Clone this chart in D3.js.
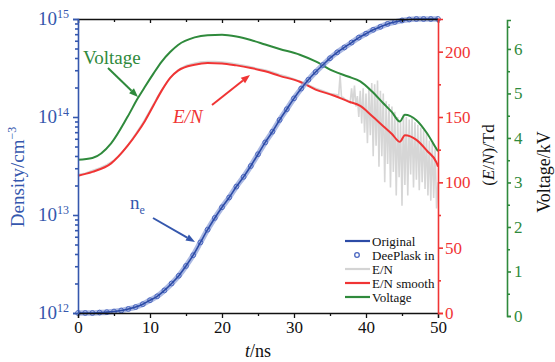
<!DOCTYPE html>
<html lang="en">
<head>
<meta charset="UTF-8">
<title>Density, E/N and voltage</title>
<style>
    body { margin: 0; padding: 0; background: #fff; }
    svg { display: block; }
    svg text { font-family: "Liberation Serif", "Times New Roman", "DejaVu Serif", serif; }
</style>
</head>
<body>
<svg width="555" height="362"></svg>
<script src="https://d3js.org/d3.v7.min.js"></script>
<script>
    // electron density n_e, one value per ns (0..50)
    const neTimes = d3.range(0, 51, 1);
    const neValues = [
        1.00e12, 1.00e12, 1.00e12, 1.01e12, 1.02e12, 1.035e12, 1.06e12, 1.10e12, 1.15e12, 1.23e12,
        1.35e12, 1.48e12, 1.70e12, 2.00e12, 2.40e12, 3.02e12, 3.89e12, 5.25e12, 7.08e12, 9.33e12,
        1.20e13, 1.51e13, 1.95e13, 2.45e13, 3.16e13, 4.17e13, 5.50e13, 7.08e13, 9.33e13, 1.20e14,
        1.55e14, 1.95e14, 2.40e14, 2.88e14, 3.39e14, 3.98e14, 4.57e14, 5.13e14, 5.75e14, 6.46e14,
        7.08e14, 7.76e14, 8.32e14, 8.91e14, 9.33e14, 9.66e14, 9.89e14, 1.0e15, 1.0e15, 1.0e15, 1.0e15
    ];

    // smoothed E/N (Td) and voltage (kV)
    const smoothTimes = [0, 2, 4.6, 6.9, 8.3, 9.3, 10.5, 11.6, 12.8, 13.9, 16.2, 18, 20, 22, 24, 26, 28,
        30.8, 33, 35.5, 37.5, 39.2, 40.8, 42.4, 43.6, 44.7, 45.4, 47, 48.5, 49.8, 50];
    const enSmooth = [105, 108, 114.5, 128, 138.5, 147, 159, 170, 180, 185.5, 190, 191.3, 191, 189.5, 187.5, 185, 181.5,
        177, 171, 166.5, 162, 158.5, 151, 143, 137, 131, 136, 132.5, 124, 115, 112];
    const voltage = [3.51, 3.55, 3.88, 4.48, 4.89, 5.15, 5.45, 5.71, 5.93, 6.09, 6.26, 6.31, 6.32, 6.28, 6.2, 6.1, 6.0,
        5.87, 5.72, 5.5, 5.38, 5.27, 5.05, 4.78, 4.58, 4.37, 4.52, 4.4, 4.1, 3.75, 3.7];

    // raw E/N (Td): 1 ns steps up to 35, then 0.2 ns steps
    const enRawEarly = [106, 107, 109, 111, 113.5, 117, 122, 129, 137, 145.5, 155, 165, 174, 181, 186.5, 189.5, 191, 192,
        192.5, 192.5, 192, 191.5, 190.5, 189.5, 188.5, 187, 186, 184.5, 182.5, 181, 179, 177, 174.5, 172, 170, 168];
    const enRawLate = [
        167, 166, 182, 165, 165, 164, 163, 163, 162, 161,
        172, 160, 174, 158, 166, 150, 170, 145, 172, 138,
        168, 130, 172, 136, 176, 120, 175, 128, 178, 112,
        170, 120, 168, 100, 162, 114, 160, 96, 158, 108,
        154, 90, 150, 104, 146, 82, 152, 98, 150, 90,
        148, 106, 150, 96, 146, 102, 144, 94, 142, 100,
        140, 95, 138, 90, 132, 86, 130, 88, 126, 80,
        100
    ];
    const rawTimes = enRawEarly.map((d, i) => i).concat(enRawLate.map((d, i) => +(36 + 0.2 * i).toFixed(1)));
    const enRaw = enRawEarly.concat(enRawLate);

    const xTicks = [0, 10, 20, 30, 40, 50];
    const densityTicks = [1e12, 1e13, 1e14, 1e15];
    const enTicks = [0, 50, 100, 150, 200];
    const voltTicks = [0, 1, 2, 3, 4, 5, 6];

    const legendItems = [
        { label: "Original", kind: "line", color: "#2c4ba6" },
        { label: "DeePlask in", kind: "dot", color: "#4a66c0" },
        { label: "E/N", kind: "line", color: "#d4d4d4" },
        { label: "E/N smooth", kind: "line", color: "#f03434" },
        { label: "Voltage", kind: "line", color: "#2f8a3c" }
    ];

    const blue = "#3557ad", red = "#f03434", green = "#2f8a3c";
    const pL = 78, pR = 438, pT = 19, pB = 313, vAxisX = 507;

    const svg = d3.select("svg");

    const x = d3.scaleLinear().domain([0, 50]).range([pL, pR]);
    const yN = d3.scaleLog().domain([1e12, 1e15]).range([pB, pT]);
    const yE = d3.scaleLinear().domain([0, 225]).range([pB, pT]);
    const yV = d3.scaleLinear().domain([0, 6.65]).range([316, 20]);

    // ---------- curves ----------
    const rawLine = d3.line().x((d, i) => x(rawTimes[i])).y(d => yE(d));
    svg.append("path").datum(enRaw)
        .attr("d", rawLine).attr("fill", "none")
        .attr("stroke", "#d6d6d6").attr("stroke-width", 1.6);

    const enLine = d3.line().curve(d3.curveMonotoneX)
        .x((d, i) => x(smoothTimes[i])).y(d => yE(d));
    svg.append("path").datum(enSmooth)
        .attr("d", enLine).attr("fill", "none")
        .attr("stroke", red).attr("stroke-width", 2);

    const vLine = d3.line().curve(d3.curveMonotoneX)
        .x((d, i) => x(smoothTimes[i])).y(d => yV(d));
    svg.append("path").datum(voltage)
        .attr("d", vLine).attr("fill", "none")
        .attr("stroke", green).attr("stroke-width", 2);

    const neLine = d3.line().curve(d3.curveMonotoneX)
        .x((d, i) => x(neTimes[i])).y(d => yN(d));
    svg.append("path").datum(neValues)
        .attr("d", neLine).attr("fill", "none")
        .attr("stroke", "#8ea0d8").attr("stroke-width", 5.5).attr("stroke-opacity", 0.75);
    svg.append("g").selectAll("circle")
        .data(neValues)
        .enter().append("circle")
        .attr("cx", (d, i) => x(neTimes[i]))
        .attr("cy", d => yN(d))
        .attr("r", 2.4)
        .attr("fill", "none")
        .attr("stroke", "#4a66c0")
        .attr("stroke-width", 1);
    svg.append("path").datum(neValues)
        .attr("d", neLine).attr("fill", "none")
        .attr("stroke", "#2c4ba6").attr("stroke-width", 1.6);

    // ---------- axes ----------
    function styleAxis(g, color, width) {
        g.selectAll(".domain, line").attr("stroke", color).attr("stroke-width", width);
        g.selectAll("text").attr("fill", color).attr("font-size", 17).attr("font-family", null);
        return g;
    }
    const minorX = [5, 15, 25, 35, 45];

    // bottom
    styleAxis(svg.append("g").attr("transform", `translate(0,${pB})`)
        .call(d3.axisBottom(x).tickValues(xTicks).tickSize(5).tickPadding(3).tickFormat(d3.format("d"))), "#111", 1.3);
    styleAxis(svg.append("g").attr("transform", `translate(0,${pB})`)
        .call(d3.axisBottom(x).tickValues(minorX).tickSize(3).tickFormat("")), "#111", 1.3)
        .select(".domain").remove();
    // top
    styleAxis(svg.append("g").attr("transform", `translate(0,${pT})`)
        .call(d3.axisBottom(x).tickValues(xTicks).tickSize(4).tickFormat("")), "#111", 1.3);
    styleAxis(svg.append("g").attr("transform", `translate(0,${pT})`)
        .call(d3.axisBottom(x).tickValues(minorX).tickSize(3).tickFormat("")), "#111", 1.3)
        .select(".domain").remove();

    // left (log density)
    styleAxis(svg.append("g").attr("transform", `translate(${pL},0)`)
        .call(d3.axisLeft(yN).tickValues(densityTicks).tickSize(5).tickFormat("")), blue, 1.6);
    const minorN = [];
    densityTicks.slice(0, 3).forEach(b => { for (let k = 2; k <= 9; k++) minorN.push(b * k); });
    styleAxis(svg.append("g").attr("transform", `translate(${pL},0)`)
        .call(d3.axisLeft(yN).tickValues(minorN).tickSize(3).tickFormat("")), blue, 1.6)
        .select(".domain").remove();
    const leftLabels = svg.append("g").attr("fill", blue);
    densityTicks.forEach(v => {
        const t = leftLabels.append("text")
            .attr("x", 69).attr("y", yN(v) + 6)
            .attr("text-anchor", "end").attr("font-size", 19);
        t.append("tspan").text("10");
        t.append("tspan").attr("font-size", 12).attr("dy", -7).text(Math.round(Math.log10(v)));
    });

    // right (E/N)
    styleAxis(svg.append("g").attr("transform", `translate(${pR},0)`)
        .call(d3.axisRight(yE).tickValues(enTicks).tickSize(5).tickPadding(2)), red, 1.6);
    styleAxis(svg.append("g").attr("transform", `translate(${pR},0)`)
        .call(d3.axisRight(yE).tickValues([25, 75, 125, 175, 225]).tickSize(3).tickFormat("")), red, 1.6)
        .select(".domain").remove();

    // far right (voltage)
    styleAxis(svg.append("g").attr("transform", `translate(${vAxisX},0)`)
        .call(d3.axisRight(yV).tickValues(voltTicks).tickSize(4).tickPadding(3).tickFormat(d3.format("d"))), green, 1.6);
    styleAxis(svg.append("g").attr("transform", `translate(${vAxisX},0)`)
        .call(d3.axisRight(yV).tickValues([0.5, 1.5, 2.5, 3.5, 4.5, 5.5, 6.5]).tickSize(3).tickFormat("")), green, 1.6)
        .select(".domain").remove();

    // ---------- axis titles ----------
    const dens = svg.append("text").attr("fill", blue).attr("font-size", 19)
        .attr("text-anchor", "middle")
        .attr("transform", "translate(24,177) rotate(-90)");
    dens.append("tspan").text("Density/cm");
    dens.append("tspan").attr("font-size", 12).attr("dy", -8).text("\u22123");

    const enT = svg.append("text").attr("fill", "#111").attr("font-size", 17)
        .attr("text-anchor", "middle")
        .attr("transform", "translate(494,155) rotate(-90)");
    enT.append("tspan").text("(");
    enT.append("tspan").attr("font-style", "italic").text("E");
    enT.append("tspan").text("/");
    enT.append("tspan").attr("font-style", "italic").text("N");
    enT.append("tspan").text(")/Td");

    svg.append("text").attr("fill", "#111").attr("font-size", 18)
        .attr("text-anchor", "middle")
        .attr("transform", "translate(550,172) rotate(-90)")
        .text("Voltage/kV");

    const tT = svg.append("text").attr("fill", "#111").attr("font-size", 18)
        .attr("text-anchor", "middle").attr("x", 258).attr("y", 357);
    tT.append("tspan").attr("font-style", "italic").text("t");
    tT.append("tspan").text("/ns");

    // ---------- annotations ----------
    function arrow(x1, y1, x2, y2, color) {
        const a = Math.atan2(y2 - y1, x2 - x1), L = 9, W = 3.5;
        const bx = x2 - L * Math.cos(a), by = y2 - L * Math.sin(a);
        svg.append("line").attr("x1", x1).attr("y1", y1).attr("x2", bx).attr("y2", by)
            .attr("stroke", color).attr("stroke-width", 2);
        svg.append("path")
            .attr("d", `M${x2},${y2}L${bx + W * Math.sin(a)},${by - W * Math.cos(a)}L${bx - W * Math.sin(a)},${by + W * Math.cos(a)}Z`)
            .attr("fill", color);
    }
    svg.append("text").attr("x", 83).attr("y", 64).attr("fill", green).attr("font-size", 19).text("Voltage");
    arrow(108, 68, 138, 97, green);

    svg.append("text").attr("x", 173).attr("y", 123).attr("fill", red).attr("font-size", 19)
        .attr("font-style", "italic").text("E/N");
    arrow(212, 105, 250, 75, red);

    const ne = svg.append("text").attr("x", 130).attr("y", 209).attr("fill", blue).attr("font-size", 19);
    ne.append("tspan").text("n");
    ne.append("tspan").attr("font-size", 12).attr("dy", 5).text("e");
    arrow(153, 218, 195, 242, blue);

    // ---------- legend ----------
    const lg = svg.append("g");
    legendItems.forEach((d, i) => {
        const yy = 241 + i * 14;
        if (d.kind === "line") {
            lg.append("line").attr("x1", 345).attr("x2", 370).attr("y1", yy).attr("y2", yy)
                .attr("stroke", d.color).attr("stroke-width", 2.2);
        } else {
            lg.append("circle").attr("cx", 357).attr("cy", yy).attr("r", 2.3)
                .attr("fill", "none").attr("stroke", d.color).attr("stroke-width", 1.3);
        }
        lg.append("text").attr("x", 372).attr("y", yy + 4.5).attr("font-size", 13)
            .attr("fill", "#111").text(d.label);
    });
</script>
</body>
</html>
